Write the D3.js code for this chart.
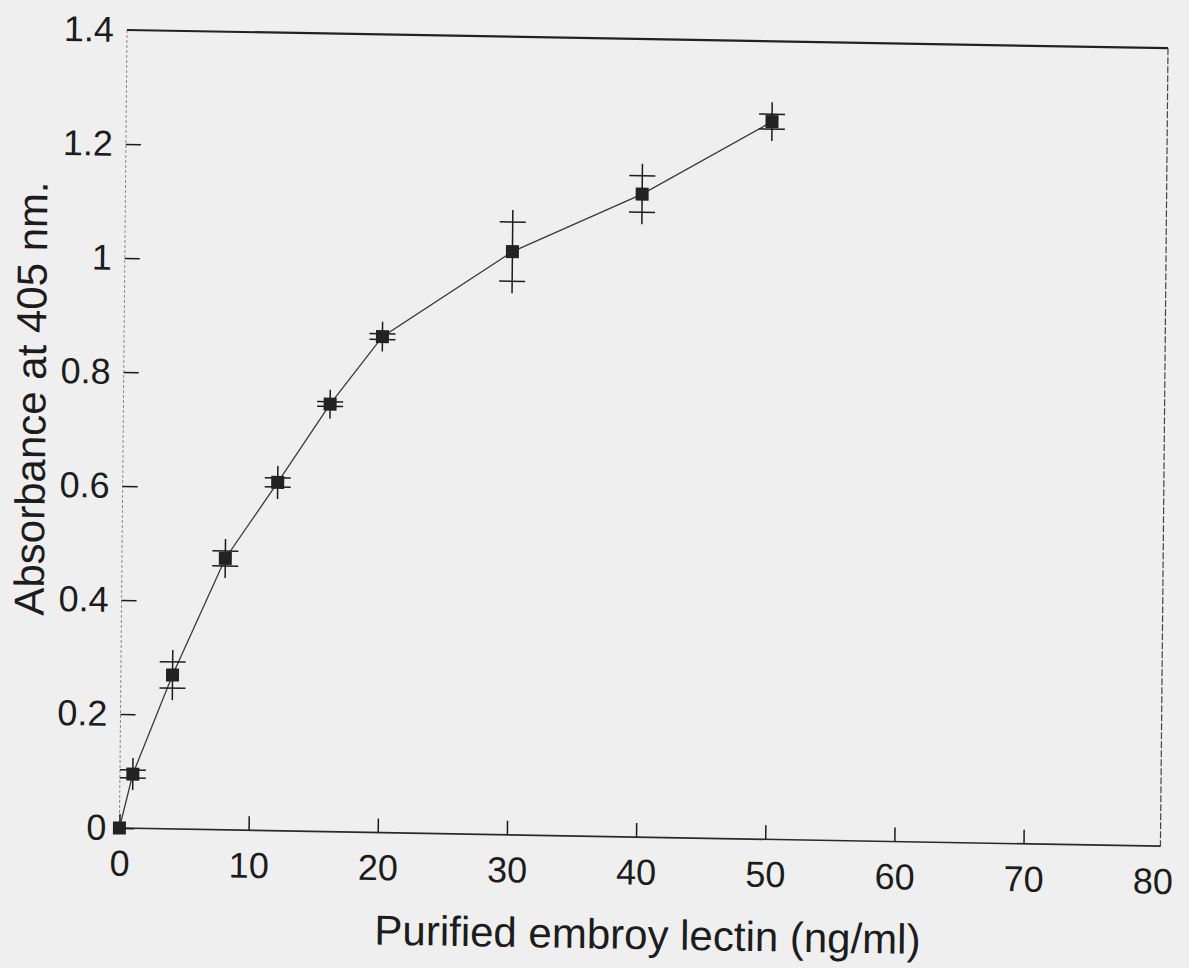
<!DOCTYPE html>
<html>
<head>
<meta charset="utf-8">
<script src="https://cdn.jsdelivr.net/npm/d3@7"></script>
<style>
  body { margin: 0; background: #efefef; }
  svg { display: block; }
</style>
</head>
<body>
<svg id="chart" width="1189" height="968"></svg>
<script>
// lectin concentration (ng/ml) and measured absorbance with error
const concentration = [0, 1, 4, 8, 12, 16, 20, 30, 40, 50];
const absorbance    = [0, 0.095, 0.27, 0.476, 0.611, 0.75, 0.87, 1.023, 1.128, 1.259];
const errorValues   = [0, 0.007, 0.023, 0.013, 0.008, 0.004, 0.005, 0.052, 0.032, 0.013];

const xTicks = [0, 10, 20, 30, 40, 50, 60, 70, 80];
const yTicks = [0, 0.2, 0.4, 0.6, 0.8, 1, 1.2, 1.4];
const yTickLabels = ["0", "0.2", "0.4", "0.6", "0.8", "1", "1.2", "1.4"];

const svg = d3.select('#chart');
const width = 1189, height = 968;
const W = 1041, H = 798;   // plot box
const font = "'Liberation Sans', Arial, Helvetica, sans-serif";
const ink = '#1c1c1c';

svg.append('rect')
    .attr('width', width)
    .attr('height', height)
    .attr('fill', '#efefef');

// the scan is slightly skewed, so the whole figure sits in a sheared group
const g = svg.append('g')
    .attr('transform', 'matrix(1,0.0175,-0.0095,1,127,30)');

const x = d3.scaleLinear().domain([0, 80.6]).range([0, W]);
const y = d3.scaleLinear().domain([0, 1.4]).range([H, 0]);

// frame
g.append('line').attr('x1', 0).attr('y1', 0).attr('x2', 0).attr('y2', H)
    .attr('stroke', '#8a8a8a').attr('stroke-width', 1).attr('stroke-dasharray', '3,2');
g.append('line').attr('x1', 0).attr('y1', 0).attr('x2', W).attr('y2', 0)
    .attr('stroke', '#222').attr('stroke-width', 2.2);
g.append('line').attr('x1', W).attr('y1', 0).attr('x2', W).attr('y2', H)
    .attr('stroke', '#444').attr('stroke-width', 1.2).attr('stroke-dasharray', '7,2');
g.append('line').attr('x1', 0).attr('y1', H).attr('x2', W).attr('y2', H)
    .attr('stroke', '#2a2a2a').attr('stroke-width', 1.7);

// axes
const xAxis = g.append('g')
    .attr('transform', 'translate(0,' + H + ')')
    .call(d3.axisBottom(x).tickValues(xTicks).tickSize(-14).tickPadding(22));
const yAxis = g.append('g')
    .call(d3.axisLeft(y).tickValues(yTicks).tickSize(-15).tickPadding(13)
        .tickFormat((d, i) => yTickLabels[i]));

[xAxis, yAxis].forEach(a => {
    a.select('.domain').remove();
    a.selectAll('.tick line').attr('stroke', ink).attr('stroke-width', 1.5);
    a.selectAll('.tick text')
        .attr('fill', ink)
        .style('font-family', font)
        .style('font-size', '36px');
});
// 80 sits on the frame, its tick is hidden behind it
xAxis.selectAll('.tick').filter(d => d === 80).select('line').remove();
yAxis.selectAll('.tick').filter(d => d === 1.4).select('line').remove();

// connecting line
const line = d3.line()
    .x((d, i) => x(concentration[i]))
    .y(d => y(d));

g.append('path')
    .datum(absorbance)
    .attr('d', line)
    .attr('fill', 'none')
    .attr('stroke', '#3a3a3a')
    .attr('stroke-width', 1.3);

// error bars
const capW = 26, overshoot = 12, box = 13;
const points = concentration.map((c, i) => ({c: c, a: absorbance[i], e: errorValues[i]}));
const bars = g.selectAll('.err')
    .data(points.filter(d => d.e > 0))
    .enter().append('g')
    .attr('class', 'err');

bars.append('line')
    .attr('x1', d => x(d.c)).attr('x2', d => x(d.c))
    .attr('y1', d => y(d.a + d.e) - overshoot)
    .attr('y2', d => y(d.a - d.e) + overshoot)
    .attr('stroke', ink).attr('stroke-width', 1.5);
bars.append('line')
    .attr('x1', d => x(d.c) - capW / 2).attr('x2', d => x(d.c) + capW / 2)
    .attr('y1', d => y(d.a + d.e)).attr('y2', d => y(d.a + d.e))
    .attr('stroke', ink).attr('stroke-width', 1.5);
bars.append('line')
    .attr('x1', d => x(d.c) - capW / 2).attr('x2', d => x(d.c) + capW / 2)
    .attr('y1', d => y(d.a - d.e)).attr('y2', d => y(d.a - d.e))
    .attr('stroke', ink).attr('stroke-width', 1.5);

// square markers
g.selectAll('.pt')
    .data(points)
    .enter().append('rect')
    .attr('class', 'pt')
    .attr('x', d => x(d.c) - box / 2)
    .attr('y', d => y(d.a) - box / 2)
    .attr('width', box)
    .attr('height', box)
    .attr('fill', '#222');

// axis titles
g.append('text')
    .attr('x', 529)
    .attr('y', 910)
    .attr('text-anchor', 'middle')
    .attr('fill', ink)
    .style('font-family', font)
    .style('font-size', '42px')
    .text('Purified embroy lectin (ng/ml)');

g.append('text')
    .attr('transform', 'translate(-78,370) rotate(-90)')
    .attr('text-anchor', 'middle')
    .attr('fill', ink)
    .style('font-family', font)
    .style('font-size', '42px')
    .text('Absorbance at 405 nm.');
</script>
</body>
</html>
